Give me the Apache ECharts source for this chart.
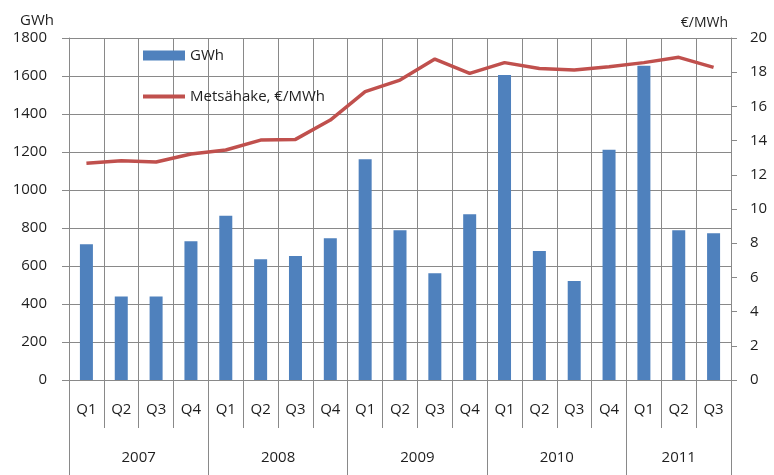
<!DOCTYPE html>
<html lang="fi">
    <head>
        <meta charset="utf-8">
        <title>Metsähake GWh ja €/MWh</title>
        <script src="https://cdn.jsdelivr.net/npm/echarts@6/dist/echarts.min.js"></script>
        <style>
            html, body { margin: 0; padding: 0; background: #fff; }
        </style>
    </head>

    <body>
        <div id="chart" style="width: 774px; height: 475px;"></div>
        <script>
            // kvartaalit ja vuodet
            let quarters = ['Q1','Q2','Q3','Q4','Q1','Q2','Q3','Q4','Q1','Q2','Q3','Q4','Q1','Q2','Q3','Q4','Q1','Q2','Q3'];
            let years = ['2007','2008','2009','2010','2011'];
            let quartersPerYear = [4, 4, 4, 4, 3];

            // arvot kuvasta luettuna
            let gwh = [714, 440, 440, 730, 865, 635, 653, 746, 1162, 788, 562, 872, 1605, 679, 521, 1212, 1654, 788, 772];
            let price = [12.67, 12.82, 12.75, 13.22, 13.45, 14.03, 14.07, 15.2, 16.86, 17.54, 18.77, 17.93, 18.56, 18.22, 18.13, 18.32, 18.56, 18.87, 18.28];

            let gwhTicks = {min: 0, max: 1800, interval: 200};
            let priceTicks = {min: 0, max: 20, interval: 2};

            // vuosiakseli: puolikvartaalin pisteet, raja joka vuoden vaihteessa
            let yearAxisData = [];
            let yearBounds = [0];
            let pos = 0;
            for (let i = 0; i < years.length; i++) {
                pos += quartersPerYear[i] * 2;
                yearBounds.push(pos);
            }
            for (let i = 0; i <= pos; i++) yearAxisData.push('');
            for (let i = 0; i < years.length; i++) {
                yearAxisData[yearBounds[i] + quartersPerYear[i]] = years[i];
            }

            const font = '"Open Sans", "DejaVu Sans", sans-serif';
            const textColor = '#1e1e1e';
            const gridColor = '#898989';

            let myChart = echarts.init(document.getElementById('chart'));
            let option = {
                animation: false,
                textStyle: {fontFamily: font},
                grid: {left: 69, right: 43, top: 38, bottom: 95},
                legend: {
                    orient: 'vertical',
                    left: 138,
                    top: 43,
                    itemWidth: 42,
                    itemHeight: 10,
                    itemGap: 26,
                    textStyle: {fontSize: 15, color: textColor, fontFamily: font},
                    data: [
                        {name: 'GWh', icon: 'rect'},
                        {name: 'Metsähake, €/MWh', icon: 'path://M0,0L42,0L42,4L0,4Z'}
                    ]
                },
                xAxis: [
                    {
                        type: 'category',
                        data: quarters,
                        boundaryGap: true,
                        axisLine: {show: true, lineStyle: {color: gridColor}},
                        axisTick: {show: true, interval: 0, length: 48, lineStyle: {color: gridColor}},
                        axisLabel: {interval: 0, margin: 22, fontSize: 15, color: textColor},
                        splitLine: {show: true, interval: 0, lineStyle: {color: gridColor}}
                    },
                    {
                        type: 'category',
                        data: yearAxisData,
                        position: 'bottom',
                        boundaryGap: false,
                        axisLine: {show: false},
                        axisTick: {
                            show: true,
                            length: 95,
                            interval: (idx) => yearBounds.includes(idx),
                            lineStyle: {color: gridColor}
                        },
                        axisLabel: {interval: 0, margin: 70, fontSize: 15, color: textColor},
                        splitLine: {show: false}
                    }
                ],
                yAxis: [
                    {
                        type: 'value',
                        min: gwhTicks.min,
                        max: gwhTicks.max,
                        interval: gwhTicks.interval,
                        name: 'GWh',
                        nameLocation: 'end',
                        nameGap: 10,
                        nameTextStyle: {fontSize: 15, color: textColor, align: 'right', padding: [0, 15, 0, 0]},
                        axisLine: {show: true, lineStyle: {color: gridColor}},
                        axisTick: {show: true, length: 7, lineStyle: {color: gridColor}},
                        axisLabel: {margin: 22, fontSize: 15, color: textColor, formatter: (v) => String(v)},
                        splitLine: {show: true, lineStyle: {color: gridColor}}
                    },
                    {
                        type: 'value',
                        min: priceTicks.min,
                        max: priceTicks.max,
                        interval: priceTicks.interval,
                        name: '€/MWh',
                        nameLocation: 'end',
                        nameGap: 8,
                        nameTextStyle: {fontSize: 14, color: textColor, align: 'right', padding: [0, 3, 0, 0]},
                        axisLine: {show: true, lineStyle: {color: gridColor}},
                        axisTick: {show: true, length: 6, lineStyle: {color: gridColor}},
                        axisLabel: {margin: 19, fontSize: 15, color: textColor, formatter: (v) => String(v)},
                        splitLine: {show: false}
                    }
                ],
                series: [
                    {
                        name: 'GWh',
                        type: 'bar',
                        xAxisIndex: 0,
                        yAxisIndex: 0,
                        barWidth: 13,
                        itemStyle: {color: '#4f81bd'},
                        data: gwh
                    },
                    {
                        name: 'Metsähake, €/MWh',
                        type: 'line',
                        xAxisIndex: 0,
                        yAxisIndex: 1,
                        symbol: 'none',
                        lineStyle: {color: '#c0504d', width: 3.5},
                        itemStyle: {color: '#c0504d'},
                        data: price
                    }
                ]
            };
            myChart.setOption(option);
        </script>
    </body>
</html>
